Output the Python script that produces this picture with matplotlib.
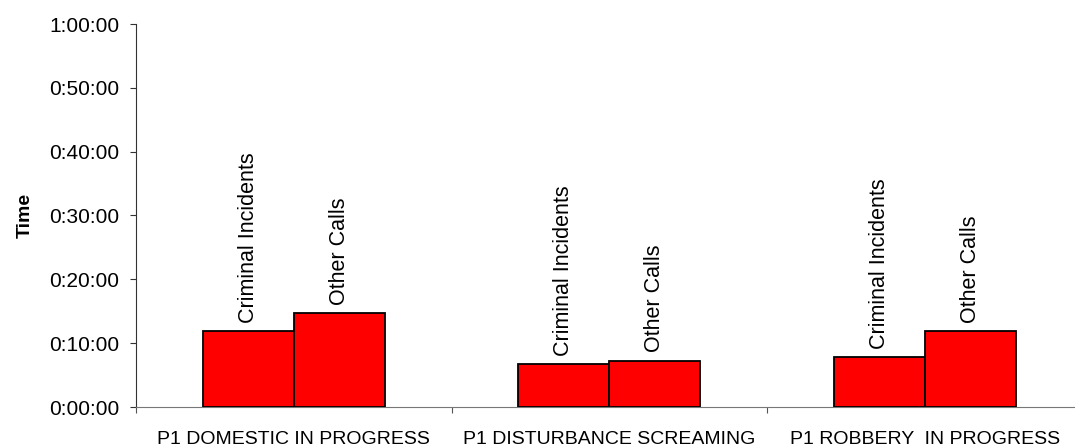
import matplotlib
matplotlib.use("Agg")
import matplotlib.pyplot as plt
from matplotlib.ticker import FuncFormatter, FixedLocator
import numpy as np

plt.rcParams['font.family'] = ['Liberation Sans', 'DejaVu Sans']

categories = ["P1 DOMESTIC IN PROGRESS", "P1 DISTURBANCE SCREAMING", "P1 ROBBERY  IN PROGRESS"]
series_names = ["Criminal Incidents", "Other Calls"]
# minutes
criminal = [11.9, 6.7, 7.8]
other = [14.7, 7.25, 11.9]

fig = plt.figure(figsize=(10.75, 4.48), dpi=100)
ax = fig.add_axes([136/1075, 1-407/448, 946.5/1075, 383/448])

x = np.arange(len(categories))
w = 0.289
for vals, off, name in [(criminal, -w/2, series_names[0]), (other, w/2, series_names[1])]:
    ax.bar(x + off, vals, width=w, color='#ff0000', edgecolor='black', linewidth=1.3, zorder=3)
    for xi, v in zip(x + off, vals):
        ax.annotate(name, (xi, v), xytext=(0, 6), textcoords='offset points',
                    rotation=90, ha='center', va='bottom', fontsize=15.5)

ax.set_xlim(-0.5, len(categories) - 0.5)
ax.set_ylim(0, 60)
ax.set_yticks(np.arange(0, 61, 10))

def fmt(v, pos):
    total = int(round(v * 60))
    h = total // 3600
    m = (total % 3600) // 60
    s = total % 60
    return f"{h}:{m:02d}:{s:02d}"
ax.yaxis.set_major_formatter(FuncFormatter(fmt))

ax.xaxis.set_major_locator(FixedLocator(np.arange(len(categories) + 1) - 0.5))
ax.xaxis.set_major_formatter(FuncFormatter(lambda v, p: ""))
ax.set_xticks(x, minor=True)
ax.set_xticklabels(categories, minor=True)
ax.tick_params(axis='x', which='minor', length=0, pad=17, labelsize=14)
ax.tick_params(axis='x', which='major', length=4, direction='out', color='#555555')
ax.tick_params(axis='y', length=4, direction='out', labelsize=15, pad=8, color='#333333')

for s in ['top', 'right']:
    ax.spines[s].set_visible(False)
ax.spines['left'].set_color('#333333')
ax.spines['bottom'].set_color('#777777')

ax.set_ylabel("Time", fontsize=14, fontweight='bold', labelpad=11)

fig.savefig("out.png", dpi=100)
